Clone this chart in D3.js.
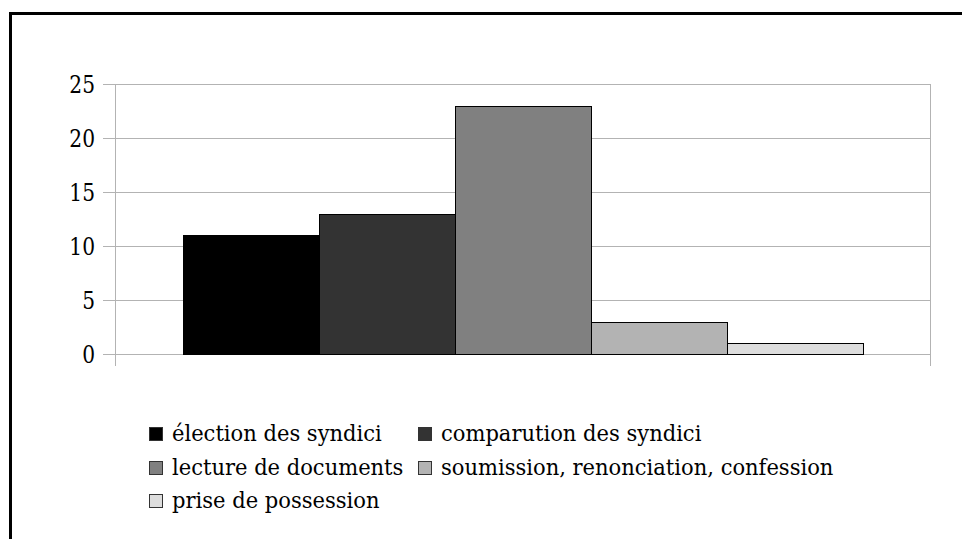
<!DOCTYPE html>
<html>
<head>
<meta charset="utf-8">
<script src="https://cdn.jsdelivr.net/npm/d3@7"></script>
<style>
  html, body { margin: 0; padding: 0; background: #fff; overflow: hidden; }
  svg { display: block; }
  svg text { font-family: 'DejaVu Serif', serif; fill: #000; }
</style>
</head>
<body>
<svg id="chart" width="962" height="539"></svg>
<script>
// Series (one category, five series)
const seriesNames = [
  "élection des syndici",
  "comparution des syndici",
  "lecture de documents",
  "soumission, renonciation, confession",
  "prise de possession"
];
const seriesValues = [11, 13, 23, 3, 1];
const seriesColors = ["#000000", "#333333", "#808080", "#b3b3b3", "#dddddd"];
const yTicks = [0, 5, 10, 15, 20, 25];

const svg = d3.select("#chart");

// outer frame (runs off the right and bottom edges)
svg.append("rect")
  .attr("x", 10.5).attr("y", 13.5)
  .attr("width", 1000).attr("height", 600)
  .attr("fill", "none").attr("stroke", "#000").attr("stroke-width", 3);

const plot = { left: 115, right: 930, top: 84, bottom: 354 };

const y = d3.scaleLinear().domain([0, 25]).range([plot.bottom, plot.top]);
const x = d3.scaleBand()
  .domain(seriesNames)
  .range([183, 863])
  .paddingInner(0).paddingOuter(0);

// horizontal gridlines with short outer ticks
svg.append("g")
  .selectAll("line")
  .data(yTicks)
  .join("line")
  .attr("x1", plot.left - 12).attr("x2", plot.right)
  .attr("y1", d => Math.round(y(d)) + 0.5).attr("y2", d => Math.round(y(d)) + 0.5)
  .attr("stroke", "#b3b3b3").attr("stroke-width", 1);

// left and right frame lines of the plot area
[plot.left, plot.right].forEach(px => {
  svg.append("line")
    .attr("x1", px + 0.5).attr("x2", px + 0.5)
    .attr("y1", plot.top).attr("y2", plot.bottom + 12)
    .attr("stroke", "#b3b3b3").attr("stroke-width", 1);
});

// y-axis labels (serif, slightly condensed)
const yAxis = d3.axisLeft(y).tickValues(yTicks).tickSize(0).tickPadding(0);
const gy = svg.append("g").attr("transform", `translate(95,0)`).call(yAxis);
gy.attr("font-family", null).attr("font-size", null);
gy.select(".domain").remove();
gy.selectAll(".tick text")
  .attr("x", 0).attr("dy", null).attr("y", 0)
  .attr("dominant-baseline", "central")
  .attr("font-size", 23.5)
  .attr("transform", "scale(0.86,1)");

// bars
svg.append("g")
  .selectAll("rect")
  .data(seriesValues)
  .join("rect")
  .attr("x", (d, i) => x(seriesNames[i]) + 0.5)
  .attr("y", d => Math.round(y(d)) + 0.5)
  .attr("width", x.bandwidth())
  .attr("height", d => Math.round(y(0)) - Math.round(y(d)))
  .attr("fill", (d, i) => seriesColors[i])
  .attr("stroke", "#000").attr("stroke-width", 1);

// legend: two columns, three rows
const legendPos = [
  [149, 441], [418, 441],
  [149, 475], [418, 475],
  [149, 508]
];
const lg = svg.append("g");
seriesNames.forEach((name, i) => {
  const [lx, ly] = legendPos[i];
  lg.append("rect")
    .attr("x", lx + 0.5).attr("y", ly - 14 + 0.5)
    .attr("width", 13).attr("height", 13)
    .attr("fill", seriesColors[i])
    .attr("stroke", "#333").attr("stroke-width", 1);
  lg.append("text")
    .attr("transform", `translate(${lx + 23},${ly}) scale(0.915,1)`)
    .attr("font-size", 23)
    .text(name);
});
</script>
</body>
</html>
